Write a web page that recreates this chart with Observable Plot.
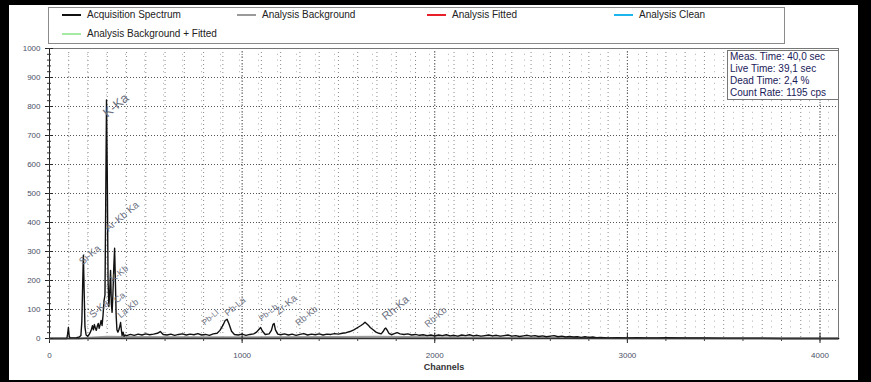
<!DOCTYPE html>
<html><head><meta charset="utf-8">
<script src="https://cdn.jsdelivr.net/npm/d3@7"></script>
<script src="https://cdn.jsdelivr.net/npm/@observablehq/plot@0.6"></script>
<style>
html,body{margin:0;padding:0;background:#000;}
#page{position:relative;width:871px;height:382px;background:#000;overflow:hidden;font-family:Arial,"Liberation Sans",sans-serif;}
#panel{position:absolute;left:9px;top:5px;width:849px;height:375px;background:#fff;}
#chart{position:absolute;left:0;top:0;}
#legend{position:absolute;left:48px;top:7px;width:735px;height:35px;border:1px solid #8a8a8a;background:#fff;}
.item{position:absolute;font-size:10px;color:#222;line-height:12px;white-space:nowrap;padding-left:25px;}
.item span.sw{position:absolute;left:0;top:5px;width:19px;height:2px;}
#info{position:absolute;left:727px;top:50px;width:106px;border:1px solid #777;background:#fff;font-size:10px;color:#1a1a5a;line-height:12px;padding:0 2px;}
</style></head>
<body>
<div id="page">
  <div id="panel"></div>
  <div id="chart"></div>
  <div id="legend"></div>
  <div id="info"></div>
</div>
<script>
// Acquisition spectrum (channel, counts)
const specChannel = [0,60,90,94,98,102,106,120,140,155,163,168,172,176,180,184,190,198,206,212,218,223,228,233,238,243,248,253,258,263,268,273,278,283,288,292,296,300,304,308,312,317,321,325,329,334,338,342,346,350,355,360,365,369,373,377,382,387,393,400,
420,440,460,480,500,520,540,560,575,590,610,630,650,670,690,710,730,750,770,790,810,830,850,870,885,900,912,922,932,945,960,980,1000,1020,1040,1060,1075,1088,1096,1105,1120,1140,1152,1160,1166,1173,1185,1200,1220,1240,1260,1280,1300,1320,1340,1360,1380,1400,1420,1440,1460,1480,1500,1520,1540,1560,1580,1600,1615,1628,1638,1645,1655,1665,1680,1695,1710,1722,1732,1740,1746,1752,1762,1775,1790,1805,1820,1840,1860,1880,1900,1920,1940,1960,1980,2000,2020,2040,2060,2080,2100,2120,2140,2160,2180,2200,2220,2240,2260,2280,2300,2320,2340,2360,2380,2400,2420,2440,2460,2480,2500,2520,2540,2560,2580,2600,2620,2640,2660,2680,2700,2720,2740,2760,2780,2800,2820,2840,2860,2880,2900,2950,3000,3050,3100,3150,3200,3300,3400,3500,3600,3700,3800,3900,4000,4096];
const specCounts = [0,0,0,15,38,10,2,2,3,5,10,60,180,287,160,40,12,8,14,22,32,44,30,48,36,28,42,52,35,48,62,45,80,130,150,480,823,560,200,110,150,235,120,90,150,250,311,200,80,30,22,30,42,55,30,10,22,8,12,10,
14,11,15,12,16,13,15,18,24,14,12,15,11,14,16,12,15,13,17,12,14,11,16,18,28,45,62,66,50,25,14,12,15,11,14,16,22,32,38,26,14,16,28,48,52,30,15,13,16,12,15,11,14,17,12,15,13,16,12,15,14,17,15,18,20,24,30,38,44,50,56,52,46,38,30,22,18,16,24,33,36,30,18,13,17,20,16,14,16,12,14,11,13,10,12,9,12,10,13,9,11,8,12,10,13,9,11,8,10,12,9,11,8,10,12,8,10,7,9,11,8,10,7,9,6,8,10,6,8,5,7,5,6,4,6,4,5,3,4,3,2,3,2,3,2,2,3,2,2,1,1,1,0,0,0,0];
// Analysis background (channel, counts)
const bgChannel = [0,150,200,300,400,800,1500,1700,2000,3000,4096];
const bgCounts  = [0,0,3,6,5,4,5,6,4,1,0];
// Peak labels
const peakNames   = ["K-Ka","Si-Ka","Ar-Kb Ka","K-Kb","S-Ka","Ca","La-Kb","Pb-Ll","Pb-La","Pb-Lb","Zr-Ka","Rb-Kb","Rh-Ka","Rh-Kb"];
const peakChannel = [301,171,306,332,224,350,370,806,925,1102,1190,1293,1746,1964];
const peakCount   = [761,253,367,194,69,121,69,45,76,59,80,42,62,38];
const peakSize    = [13,10,10,9,10,9,9,8,9,8,10,9,11,9];
// Axis ticks
const yTickValues = [0,100,200,300,400,500,600,700,800,900,1000];
const xTickValues = [0,1000,2000,3000,4000];
// Legend & info
const legendNames  = ["Acquisition Spectrum","Analysis Background","Analysis Fitted","Analysis Clean","Analysis Background + Fitted"];
const legendColors = ["#111111","#9a9a9a","#e8202a","#1cb5ee","#a6eaa6"];
const infoLines = ["Meas. Time: 40,0 sec","Live Time: 39,1 sec","Dead Time: 2,4 %","Count Rate: 1195 cps"];

const spec = specChannel.map((c,i)=>({ch:c, n:specCounts[i]}));
const bg = bgChannel.map((c,i)=>({ch:c, n:bgCounts[i]}));
const peaks = peakNames.map((t,i)=>({t, ch:peakChannel[i], n:peakCount[i], s:peakSize[i]}));
const minorX = d3.range(0, 4097, 100);
const minorX200 = d3.range(0, 4097, 200);
const minorY = d3.range(0, 1001, 20);
const font = "Arial, 'Liberation Sans', sans-serif";
const fmt = d => String(d);

const sizes = [...new Set(peakSize)];
const chart = Plot.plot({
  width: 871, height: 382,
  marginLeft: 49, marginRight: 33, marginTop: 48, marginBottom: 44,
  x: {domain: [0, 4096]},
  y: {domain: [0, 1000]},
  style: {background: "transparent", fontFamily: font, overflow: "visible"},
  marks: [
    Plot.ruleX(minorX, {stroke: "#8a8a8a", strokeDasharray: "1,3"}),
    Plot.ruleY(minorY, {stroke: "#b0b0b0", strokeDasharray: "1,18"}),
    Plot.ruleY(yTickValues, {stroke: "#555", strokeDasharray: "1,2"}),
    Plot.ruleX(xTickValues, {stroke: "#555", strokeDasharray: "1,2"}),
    Plot.frame({stroke: "#777"}),
    Plot.line(bg, {x: "ch", y: "n", stroke: "#9a9a9a", strokeWidth: 2}),
    Plot.line(spec, {x: "ch", y: "n", stroke: "#111", strokeWidth: 1.4}),
    Plot.ruleX([0], {stroke: "#222"}),
    Plot.ruleY([0], {stroke: "#333", strokeWidth: 1.5}),
    Plot.axisY(yTickValues, {tickSize: 4, tickPadding: 5, fontSize: 8, fill: "#4a4f66", stroke: "#222", label: null, tickFormat: fmt}),
    Plot.axisY(yTickValues, {tickSize: -4, text: null, stroke: "#222", label: null}),
    Plot.axisY(minorY, {tickSize: 2, text: null, stroke: "#333", label: null}),
    Plot.axisY(minorY, {tickSize: -2, text: null, stroke: "#333", label: null}),
    Plot.axisX(xTickValues, {tickSize: 5, tickPadding: 9, fontSize: 8, fill: "#4a4f66", stroke: "#222", label: null, tickFormat: fmt}),
    Plot.axisX(xTickValues, {tickSize: -5, text: null, stroke: "#222", label: null}),
    Plot.axisX(minorX200, {tickSize: 3, text: null, stroke: "#444", label: null}),
    ...sizes.map(s => Plot.text(peaks.filter(d => d.s === s), {
      x: "ch", y: "n", text: "t", rotate: -40, textAnchor: "start", lineAnchor: "bottom",
      fontSize: s, fill: "#6b6f80"
    })),
    Plot.text(["Channels"], {frameAnchor: "bottom", dy: 31, fontSize: 9, fontWeight: "bold", fill: "#333"})
  ]
});
document.getElementById("chart").appendChild(chart);

// legend
const legend = document.getElementById("legend");
const legendPos = [[13,1],[188,1],[378,1],[565,1],[13,20]];
legendNames.forEach((name,i)=>{
  const d = document.createElement("div");
  d.className = "item";
  d.style.left = legendPos[i][0] + "px";
  d.style.top = legendPos[i][1] + "px";
  const sw = document.createElement("span");
  sw.className = "sw";
  sw.style.background = legendColors[i];
  d.appendChild(sw);
  d.appendChild(document.createTextNode(name));
  legend.appendChild(d);
});
const info = document.getElementById("info");
infoLines.forEach(t=>{ const d=document.createElement("div"); d.textContent=t; info.appendChild(d); });
</script>
</body></html>
